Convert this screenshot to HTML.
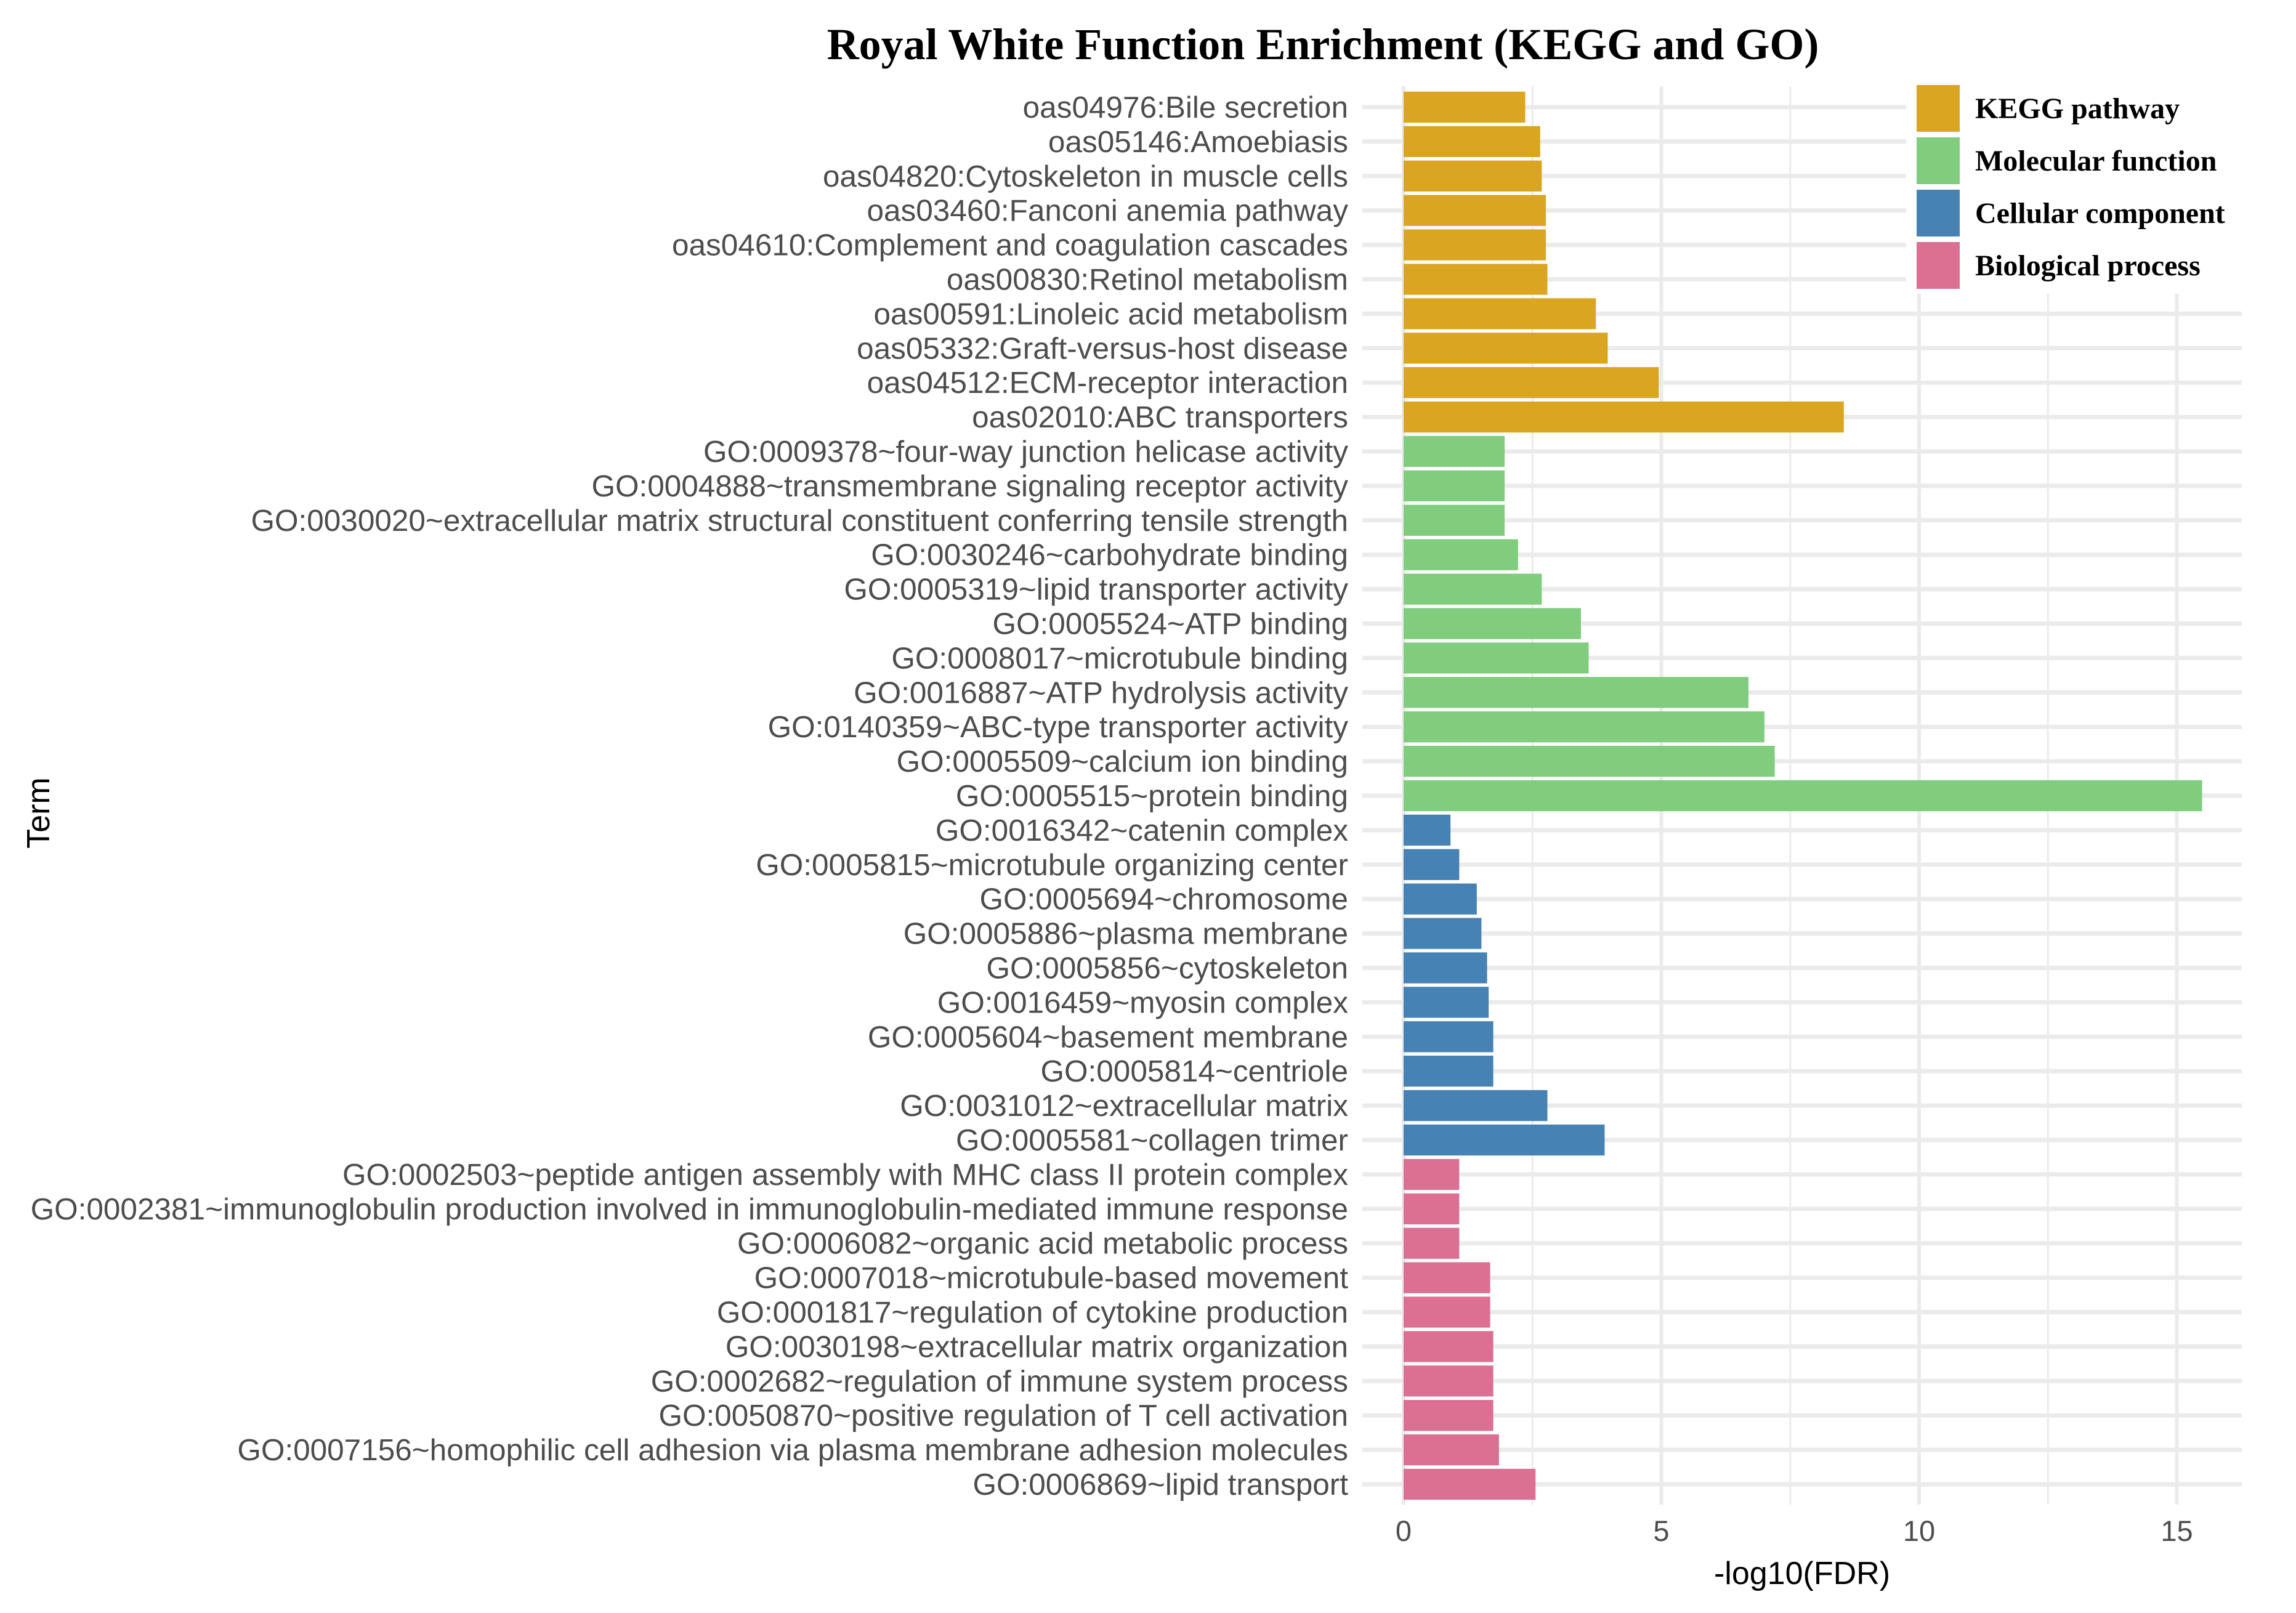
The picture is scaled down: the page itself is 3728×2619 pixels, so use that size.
<!DOCTYPE html>
<html><head><meta charset="utf-8"><style>
html,body{margin:0;padding:0;background:#fff;}
svg{display:block;}
</style></head>
<body>
<svg id="chart" xmlns="http://www.w3.org/2000/svg" width="3728" height="2619" viewBox="0 0 3728 2619">
<rect width="3728" height="2619" fill="#fff"/>
<g id="grid"></g>
<g id="bars"></g>
<g id="ylabels"></g>
<g id="xticks"></g>
<text x="2148" y="96" text-anchor="middle" font-family="'Liberation Serif',serif" font-weight="bold" font-size="72" fill="#000">Royal White Function Enrichment (KEGG and GO)</text>
<text x="2926" y="2572" text-anchor="middle" font-family="'Liberation Sans',sans-serif" font-size="52" fill="#000">-log10(FDR)</text>
<text transform="translate(80,1320) rotate(-90)" text-anchor="middle" font-family="'Liberation Sans',sans-serif" font-size="52" fill="#000">Term</text>
<g id="legend"></g>
</svg>
<script>
const categories = ["KEGG pathway","Molecular function","Cellular component","Biological process"];
const colors = ["#DAA520","#7FCD7D","#4682B4","#DB7093"];
const terms = [
"oas04976:Bile secretion","oas05146:Amoebiasis","oas04820:Cytoskeleton in muscle cells","oas03460:Fanconi anemia pathway","oas04610:Complement and coagulation cascades","oas00830:Retinol metabolism","oas00591:Linoleic acid metabolism","oas05332:Graft-versus-host disease","oas04512:ECM-receptor interaction","oas02010:ABC transporters",
"GO:0009378~four-way junction helicase activity","GO:0004888~transmembrane signaling receptor activity","GO:0030020~extracellular matrix structural constituent conferring tensile strength","GO:0030246~carbohydrate binding","GO:0005319~lipid transporter activity","GO:0005524~ATP binding","GO:0008017~microtubule binding","GO:0016887~ATP hydrolysis activity","GO:0140359~ABC-type transporter activity","GO:0005509~calcium ion binding","GO:0005515~protein binding",
"GO:0016342~catenin complex","GO:0005815~microtubule organizing center","GO:0005694~chromosome","GO:0005886~plasma membrane","GO:0005856~cytoskeleton","GO:0016459~myosin complex","GO:0005604~basement membrane","GO:0005814~centriole","GO:0031012~extracellular matrix","GO:0005581~collagen trimer",
"GO:0002503~peptide antigen assembly with MHC class II protein complex","GO:0002381~immunoglobulin production involved in immunoglobulin-mediated immune response","GO:0006082~organic acid metabolic process","GO:0007018~microtubule-based movement","GO:0001817~regulation of cytokine production","GO:0030198~extracellular matrix organization","GO:0002682~regulation of immune system process","GO:0050870~positive regulation of T cell activation","GO:0007156~homophilic cell adhesion via plasma membrane adhesion molecules","GO:0006869~lipid transport"];
const values = [2.36,2.65,2.68,2.76,2.76,2.79,3.73,3.96,4.95,8.54,
1.96,1.96,1.96,2.22,2.68,3.44,3.59,6.69,7.0,7.2,15.49,
0.91,1.08,1.42,1.51,1.62,1.65,1.74,1.74,2.79,3.9,
1.08,1.08,1.08,1.68,1.68,1.74,1.74,1.74,1.85,2.56];
const groups = [0,0,0,0,0,0,0,0,0,0, 1,1,1,1,1,1,1,1,1,1,1, 2,2,2,2,2,2,2,2,2,2, 3,3,3,3,3,3,3,3,3,3];
const xTicks = [0,5,10,15];
const xMinor = [2.5,7.5,12.5];

const NS="http://www.w3.org/2000/svg";
const panelL=2212, panelR=3640, panelT=140, panelB=2443;
const x0=2279, pxPerUnit=83.7;
const rowTop=174, rowStep=(2410-174)/(terms.length-1);
function xs(v){return x0+v*pxPerUnit;}
function ys(i){return rowTop+i*rowStep;}
function mk(tag,attrs,parent){const e=document.createElementNS(NS,tag);for(const k in attrs)e.setAttribute(k,attrs[k]);parent.appendChild(e);return e;}
const grid=document.getElementById('grid'),bars=document.getElementById('bars'),yl=document.getElementById('ylabels'),xt=document.getElementById('xticks'),lg=document.getElementById('legend');

xMinor.forEach(v=>{const l=mk('line',{x1:xs(v),x2:xs(v),y1:panelT,y2:panelB,stroke:'#ebebeb','stroke-width':3},grid);

});
xTicks.forEach(v=>{const l=mk('line',{x1:xs(v),x2:xs(v),y1:panelT,y2:panelB,stroke:'#ebebeb','stroke-width':6},grid);


const t=mk('text',{x:xs(v),y:2502,'text-anchor':'middle','font-family':"'Liberation Sans',sans-serif",'font-size':47,fill:'#4d4d4d'},xt);
t.textContent=v;

});
terms.forEach((term,i)=>{const y=ys(i);
const g=mk('line',{x1:panelL,x2:panelR,y1:y,y2:y,stroke:'#ebebeb','stroke-width':7},grid);


const r=mk('rect',{x:xs(0),y:y-rowStep*0.45,width:xs(values[i])-xs(0),height:rowStep*0.9,fill:colors[groups[i]]},bars);


const t=mk('text',{x:2189,y:y+17,'text-anchor':'end','font-family':"'Liberation Sans',sans-serif",'font-size':49.5,fill:'#4d4d4d'},yl);
t.textContent=term;

});

mk('rect',{x:3095,y:125,width:633,height:352,fill:'#fff'},lg);
categories.forEach((c,i)=>{const y=138+i*85;
const k=mk('rect',{x:3112,y:y,width:70,height:76,fill:colors[i]},lg);


const t=mk('text',{x:3207,y:y+54,'font-family':"'Liberation Serif',serif",'font-weight':'bold','font-size':48,fill:'#000'},lg);
t.textContent=c;

});
</script>
</body></html>
